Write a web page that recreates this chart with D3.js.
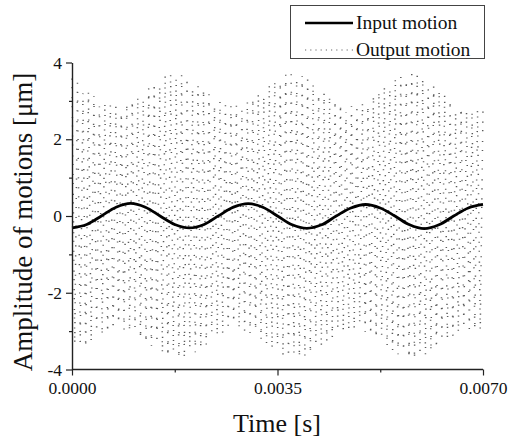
<!DOCTYPE html>
<html>
<head>
<meta charset="utf-8">
<script src="https://cdn.jsdelivr.net/npm/d3@7"></script>
<style>
  html, body { margin: 0; padding: 0; background: #fff; }
  svg { display: block; }
  text { font-family: "Liberation Serif", "Times New Roman", serif; fill: #111; }
</style>
</head>
<body>
<svg id="chart" width="518" height="438"></svg>
<script>
// Input motion: sampled every 0.25 ms
const inputTimes = [0, 0.00025, 0.0005, 0.00075, 0.001, 0.00125, 0.0015, 0.00175,
  0.002, 0.00225, 0.0025, 0.00275, 0.003, 0.00325, 0.0035, 0.00375,
  0.004, 0.00425, 0.0045, 0.00475, 0.005, 0.00525, 0.0055, 0.00575,
  0.006, 0.00625, 0.0065, 0.00675, 0.007];
const inputValues = [-0.31, -0.22, 0.0, 0.23, 0.33, 0.23, 0.0, -0.22,
  -0.31, -0.22, 0.01, 0.23, 0.32, 0.23, 0.0, -0.23,
  -0.32, -0.23, 0.0, 0.21, 0.30, 0.21, 0.0, -0.23,
  -0.33, -0.23, 0.0, 0.21, 0.30];

// Output motion: successive positive and negative peaks of the fast oscillation
const outputUpperPeaks = [
  3.58, 3.48, 3.20, 3.24, 3.12, 2.85, 2.93, 2.88, 2.86, 2.70,
  2.93, 3.01, 3.11, 3.05, 3.35, 3.47, 3.40, 3.65, 3.69, 3.58,
  3.67, 3.61, 3.30, 3.41, 3.29, 3.17, 2.90, 2.97, 2.90, 2.86,
  2.87, 2.75, 2.97, 3.07, 3.18, 3.12, 3.42, 3.53, 3.47, 3.68,
  3.70, 3.55, 3.64, 3.56, 3.46, 3.15, 3.22, 3.11, 3.00, 2.92,
  2.70, 2.86, 2.88, 2.94, 2.88, 3.13, 3.25, 3.37, 3.30, 3.58,
  3.65, 3.52, 3.70, 3.67, 3.60, 3.32, 3.40, 3.28, 3.15, 3.00,
  2.70, 2.80, 2.74, 2.72, 2.76, 2.84];
const outputLowerPeaks = [
  -3.35, -3.30, -3.41, -3.30, -3.02, -3.09, -3.02, -2.97, -2.80, -2.96,
  -3.01, -2.92, -3.18, -3.28, -3.39, -3.30, -3.59, -3.66, -3.55, -3.71,
  -3.69, -3.45, -3.55, -3.46, -3.35, -3.05, -3.13, -3.05, -2.99, -2.78,
  -2.95, -2.99, -3.05, -2.98, -3.24, -3.35, -3.46, -3.35, -3.63, -3.69,
  -3.58, -3.70, -3.66, -3.59, -3.30, -3.39, -3.28, -3.18, -2.92, -3.01,
  -2.96, -2.95, -2.80, -3.02, -3.09, -3.19, -3.12, -3.41, -3.51, -3.60,
  -3.50, -3.70, -3.71, -3.52, -3.62, -3.54, -3.44, -3.15, -3.22, -3.12,
  -3.04, -2.82, -2.95, -2.96, -2.99];
const timeSpan = [0, 0.007];

const xTickValues = [0, 0.0035, 0.007];
const xTickLabels = ["0.0000", "0.0035", "0.0070"];
const xMinorTicks = [0.00175, 0.00525];
const yTickValues = [-4, -2, 0, 2, 4];
const yTickLabels = ["-4", "-2", "0", "2", "4"];
const yMinorTicks = [-3, -1, 1, 3];

const legendLabels = ["Input motion", "Output motion"];
const xTitle = "Time [s]";
const yTitle = "Amplitude of motions [\u03bcm]";

// ---- layout ----
const serif = "'Liberation Serif', 'Times New Roman', serif";
const svg = d3.select("#chart");
const x = d3.scaleLinear().domain(timeSpan).range([72, 483]);
const y = d3.scaleLinear().domain([-4, 4]).range([369.5, 62.5]);

// interleave the peaks into one trace, evenly spaced in time
const outputValues = [];
outputUpperPeaks.forEach((u, i) => {
  outputValues.push(u);
  if (i < outputLowerPeaks.length) outputValues.push(outputLowerPeaks[i]);
});
const peakStep = (timeSpan[1] - timeSpan[0]) / (outputValues.length - 1);
const outputData = outputValues.map((v, i) => ({ t: timeSpan[0] + i * peakStep, v }));
const inputData = inputTimes.map((t, i) => ({ t, v: inputValues[i] }));

// output motion (dotted)
svg.append("path")
  .datum(outputData)
  .attr("fill", "none")
  .attr("stroke", "#5a5a5a")
  .attr("stroke-width", 1.5)
  .attr("stroke-dasharray", "1.1,7.4,1.1,8.9,1.1,7.9,1.1,9.8")
  .attr("d", d3.line().x(d => x(d.t)).y(d => y(d.v)));

// input motion (solid)
svg.append("path")
  .datum(inputData)
  .attr("fill", "none")
  .attr("stroke", "#000")
  .attr("stroke-width", 2.8)
  .attr("d", d3.line().x(d => x(d.t)).y(d => y(d.v)).curve(d3.curveCatmullRom));

// ---- axes ----
const xAxis = svg.append("g").attr("transform", "translate(0,369.5)")
  .call(d3.axisBottom(x).tickValues(xTickValues).tickFormat((d, i) => xTickLabels[i])
    .tickSize(6).tickPadding(6));
svg.append("g").attr("transform", "translate(0,369.5)")
  .call(d3.axisBottom(x).tickValues(xMinorTicks).tickFormat("").tickSize(3).tickSizeOuter(0))
  .select(".domain").remove();

const yAxis = svg.append("g").attr("transform", "translate(72,0)")
  .call(d3.axisLeft(y).tickValues(yTickValues).tickFormat((d, i) => yTickLabels[i])
    .tickSize(6).tickPadding(4).tickSizeOuter(0));
svg.append("g").attr("transform", "translate(72,0)")
  .call(d3.axisLeft(y).tickValues(yMinorTicks).tickFormat("").tickSize(3).tickSizeOuter(0))
  .select(".domain").remove();

xAxis.select(".domain").attr("d", `M${x(0)},0H${x(0.007)}`);
svg.selectAll("g").attr("font-family", serif);
svg.selectAll(".domain").attr("stroke", "#222").attr("stroke-width", 1.4);
svg.selectAll(".tick line").attr("stroke", "#222").attr("stroke-width", 1.2);
svg.selectAll(".tick text")
  .style("font-family", serif)
  .style("font-size", "17.5px").attr("fill", "#111");

// axis titles
svg.append("text")
  .attr("x", 277).attr("y", 432)
  .attr("text-anchor", "middle")
  .style("font-size", "26px")
  .text(xTitle);
svg.append("text")
  .attr("transform", "translate(32,222) rotate(-90)")
  .attr("text-anchor", "middle")
  .style("font-size", "27px")
  .text(yTitle);

// ---- legend ----
const legend = svg.append("g");
legend.append("rect")
  .attr("x", 290.5).attr("y", 5.5).attr("width", 194).attr("height", 53)
  .attr("fill", "#fff").attr("stroke", "#444").attr("stroke-width", 1);
legend.append("line")
  .attr("x1", 305).attr("x2", 353).attr("y1", 23).attr("y2", 23)
  .attr("stroke", "#000").attr("stroke-width", 2.6);
legend.append("line")
  .attr("x1", 305).attr("x2", 353).attr("y1", 50).attr("y2", 50)
  .attr("stroke", "#666").attr("stroke-width", 1.2).attr("stroke-dasharray", "1.2,4");
legend.selectAll("text.lg").data(legendLabels).join("text")
  .attr("class", "lg")
  .attr("x", 356).attr("y", (d, i) => 29 + i * 27)
  .style("font-size", "19.5px")
  .text(d => d);
</script>
</body>
</html>
